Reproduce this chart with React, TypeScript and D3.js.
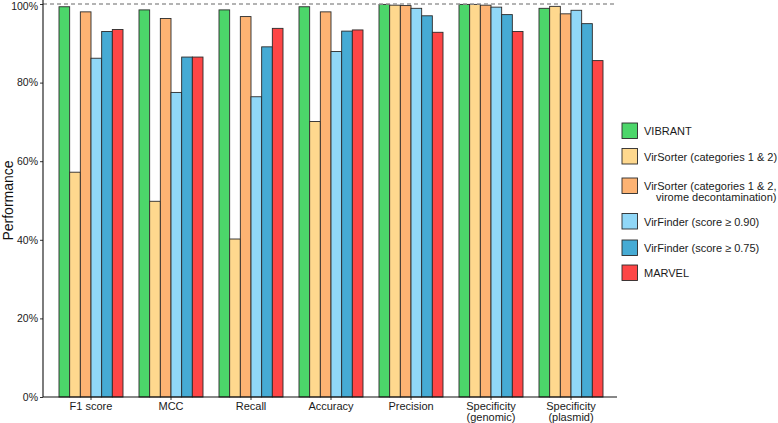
import React, { useRef, useEffect } from 'react';
import * as d3 from 'd3';

const categories = ['F1 score', 'MCC', 'Recall', 'Accuracy', 'Precision', 'Specificity\n(genomic)', 'Specificity\n(plasmid)'];
const tools = ['VIBRANT', 'VirSorter (categories 1 & 2)', 'VirSorter (categories 1 & 2,\nvirome decontamination)', 'VirFinder (score ≥ 0.90)', 'VirFinder (score ≥ 0.75)', 'MARVEL'];
const colors = ['#4cd66a', '#fed88e', '#fdb373', '#90d7f7', '#46abd4', '#fd4646'];

// values per tool, in the order of categories (fraction of 1)
const vibrant = [0.993, 0.985, 0.985, 0.993, 0.999, 0.999, 0.989];
const virsorter = [0.572, 0.498, 0.402, 0.701, 0.997, 0.999, 0.994];
const virsorterDecon = [0.980, 0.963, 0.968, 0.980, 0.996, 0.997, 0.975];
const virfinder90 = [0.862, 0.775, 0.764, 0.879, 0.989, 0.992, 0.984];
const virfinder75 = [0.930, 0.865, 0.891, 0.931, 0.970, 0.973, 0.950];
const marvel = [0.935, 0.865, 0.938, 0.934, 0.928, 0.930, 0.856];
const series = [vibrant, virsorter, virsorterDecon, virfinder90, virfinder75, marvel];

const yTicks = [0, 0.2, 0.4, 0.6, 0.8, 1];

const width = 778;
const height = 423;
const font = '"Liberation Sans", Arial, Helvetica, sans-serif';

const App: React.FC = () => {
  const svgRef = useRef<SVGSVGElement>(null);

  useEffect(() => {
    if (!svgRef.current) return;
    const svg = d3.select(svgRef.current);
    svg.selectAll('*').remove();

    const panel = { left: 43, right: 617, top: 0, bottom: 397 };

    const x = d3.scaleBand<string>()
      .domain(categories)
      .range([51, 611])
      .paddingInner(0.2)
      .paddingOuter(0.1);

    const xInner = d3.scaleBand<number>()
      .domain(d3.range(tools.length))
      .range([0, x.bandwidth()]);

    const y = d3.scaleLinear()
      .domain([0, 1])
      .range([397, 4]);

    // bars
    categories.forEach((cat, ci) => {
      const g = svg.append('g').attr('transform', `translate(${x(cat)},0)`);
      series.forEach((vals, si) => {
        g.append('rect')
          .attr('x', xInner(si)!)
          .attr('y', y(vals[ci]))
          .attr('width', xInner.bandwidth())
          .attr('height', y(0) - y(vals[ci]))
          .attr('fill', colors[si])
          .attr('stroke', '#2b2b2b')
          .attr('stroke-width', 0.9);
      });
    });

    // 100% reference line
    svg.append('line')
      .attr('x1', panel.left).attr('x2', panel.right)
      .attr('y1', y(1)).attr('y2', y(1))
      .attr('stroke', '#9a9a9a')
      .attr('stroke-width', 1.4)
      .attr('stroke-dasharray', '4,3');

    // y axis
    const yAxis = d3.axisLeft(y)
      .tickValues(yTicks)
      .tickFormat(d3.format('.0%'))
      .tickSize(3)
      .tickPadding(2);
    const yg = svg.append('g')
      .attr('transform', `translate(${panel.left},0)`)
      .call(yAxis);
    yg.select('.domain').remove();
    yg.selectAll('.tick line').attr('stroke', '#333');
    yg.selectAll('.tick text')
      .style('font-family', font)
      .style('font-size', '10.5px')
      .attr('fill', '#1a1a1a');
    // keep the top label inside the picture
    yg.selectAll<SVGTextElement, number>('.tick text')
      .filter(d => d === 1)
      .attr('dy', '0.5em');
    svg.append('line')
      .attr('x1', panel.left).attr('x2', panel.left)
      .attr('y1', panel.top).attr('y2', panel.bottom)
      .attr('stroke', '#111').attr('stroke-width', 1.1);

    // x axis
    const xAxis = d3.axisBottom(x).tickSize(3).tickFormat(() => '');
    const xg = svg.append('g')
      .attr('transform', `translate(0,${panel.bottom})`)
      .call(xAxis);
    xg.select('.domain').remove();
    xg.selectAll('.tick line').attr('stroke', '#333');
    svg.append('line')
      .attr('x1', panel.left).attr('x2', panel.right)
      .attr('y1', panel.bottom).attr('y2', panel.bottom)
      .attr('stroke', '#111').attr('stroke-width', 1.1);

    categories.forEach(cat => {
      const t = svg.append('text')
        .attr('x', x(cat)! + x.bandwidth() / 2)
        .attr('y', 410)
        .attr('text-anchor', 'middle')
        .style('font-family', font)
        .style('font-size', '11px')
        .attr('fill', '#1a1a1a');
      cat.split('\n').forEach((line, i) => {
        t.append('tspan')
          .attr('x', x(cat)! + x.bandwidth() / 2)
          .attr('dy', i === 0 ? 0 : 11)
          .text(line);
      });
    });

    // axis title
    svg.append('text')
      .attr('transform', `translate(13,${(y(0) + y(1)) / 2}) rotate(-90)`)
      .attr('text-anchor', 'middle')
      .style('font-family', font)
      .style('font-size', '14px')
      .attr('fill', '#111')
      .text('Performance');

    // legend (multi-line labels are right-justified, like the source)
    const keyTops = [123, 148.5, 178, 213.5, 240, 265];
    const lg = svg.append('g');
    tools.forEach((name, i) => {
      lg.append('rect')
        .attr('x', 622)
        .attr('y', keyTops[i])
        .attr('width', 15.5)
        .attr('height', 15.5)
        .attr('fill', colors[i])
        .attr('stroke', '#2b2b2b')
        .attr('stroke-width', 0.9);
      const lines = name.split('\n');
      const t = lg.append('text')
        .attr('x', 644)
        .attr('y', keyTops[i] + 12)
        .style('font-family', font)
        .style('font-size', '11px')
        .attr('fill', '#1a1a1a');
      const spans = lines.map((line, li) => t.append('tspan')
        .attr('x', 644)
        .attr('dy', li === 0 ? 0 : 11)
        .text(line));
      if (spans.length > 1) {
        const w0 = (spans[0].node() as SVGTSpanElement).getComputedTextLength();
        spans.forEach(s => s.attr('x', 644 + w0).attr('text-anchor', 'end'));
      }
    });
  }, []);

  return (
    <div style={{ position: 'absolute', left: 0, top: 0 }}>
      <svg ref={svgRef} width={width} height={height} style={{ display: 'block', background: '#fff' }} />
    </div>
  );
};

export default App;
